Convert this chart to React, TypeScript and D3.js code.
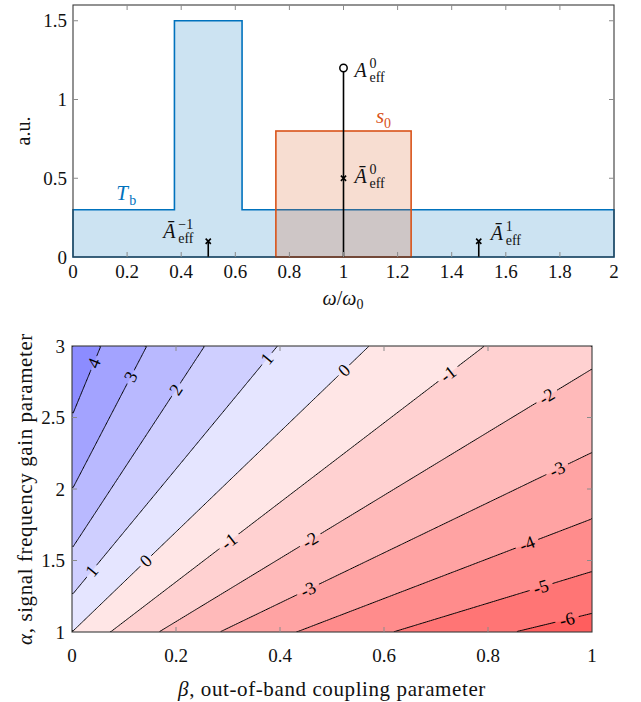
import React, { useMemo } from "react";
import * as d3 from "d3";

const W = 641;
const H = 702;
const FONT = "Liberation Serif";
const TS = { fontFamily: `"${FONT}"` };

// ---------- top panel data ----------
const tbOmega = [0, 0.375, 0.625, 2];
const tbValue = [0.3, 1.5, 0.3, 0.3];
const s0Omega = [0.75, 1.25];
const s0Value = 0.8;
const stemOmega = [0.5, 1, 1.5];
const stemHeight = [0.1, 1.2, 0.1];
const crossOmega = [0.5, 1, 1.5];
const crossValue = [0.1, 0.5, 0.1];
const circleOmega = [1];
const circleValue = [1.2];
const topXTicks = [0, 0.2, 0.4, 0.6, 0.8, 1, 1.2, 1.4, 1.6, 1.8, 2];
const topXTickLabels = ["0", "0.2", "0.4", "0.6", "0.8", "1", "1.2", "1.4", "1.6", "1.8", "2"];
const topYTicks = [0, 0.5, 1, 1.5];
const topYTickLabels = ["0", "0.5", "1", "1.5"];

// ---------- bottom panel data ----------
const betaTicks = [0, 0.2, 0.4, 0.6, 0.8, 1];
const betaTickLabels = ["0", "0.2", "0.4", "0.6", "0.8", "1"];
const alphaTicks = [1, 1.5, 2, 2.5, 3];
const alphaTickLabels = ["1", "1.5", "2", "2.5", "3"];
const gainLevels = [-6, -5, -4, -3, -2, -1, 0, 1, 2, 3, 4];
const bandColors = [
  "rgb(255,94,94)",
  "rgb(255,117,117)",
  "rgb(255,140,140)",
  "rgb(255,163,163)",
  "rgb(255,186,186)",
  "rgb(255,209,209)",
  "rgb(255,230,230)",
  "rgb(229,229,255)",
  "rgb(207,207,255)",
  "rgb(185,185,255)",
  "rgb(163,163,255)",
  "rgb(140,140,255)",
];
const couplingSlope = 3.5; // gain (dB) = 10 log10( alpha / (1 + 3.5 beta) )
const labelLevel = [4, 3, 2, 1, 1, 0, 0, -1, -1, -2, -2, -3, -3, -4, -5, -6];
const labelBeta = [0.042, 0.113, 0.2, 0.375, 0.038, 0.523, 0.142, 0.723, 0.302, 0.913, 0.458, 0.933, 0.454, 0.875, 0.902, 0.952];

function gainDb(beta: number, alpha: number) {
  return 10 * Math.log10(alpha / (1 + couplingSlope * beta));
}

const FRAME = "#3a3a3a";
const TICK = "#8a8a8a";
const BLUE = "#0072bd";
const ORANGE = "#d95319";

function MathLabel({ x, y, base, sup, sub, color = "#111", size = 20, subSize = 14, adv = 15 }: any) {
  return (
    <g fill={color}>
      <text x={x} y={y} fontSize={size} fontStyle="italic" fontFamily={FONT} style={TS}>{base}</text>
      {sup !== undefined && (
        <text x={x + adv} y={y - 9} fontSize={subSize} fontFamily={FONT} style={TS}>{sup}</text>
      )}
      {sub !== undefined && (
        <text x={x + adv} y={y + 5} fontSize={subSize} fontFamily={FONT} style={TS}>{sub}</text>
      )}
    </g>
  );
}

export default function App() {
  // ---------- top scales ----------
  const tx = d3.scaleLinear().domain([0, 2]).range([73, 614]);
  const ty = d3.scaleLinear().domain([0, 1.6]).range([257, 5]);

  const tbPts = tbOmega.map((o, i) => [o, tbValue[i]] as [number, number]);
  const tbArea = d3
    .area<[number, number]>()
    .x((d) => tx(d[0]))
    .y0(ty(0))
    .y1((d) => ty(d[1]))
    .curve(d3.curveStepAfter)(tbPts) as string;

  // ---------- bottom scales ----------
  const bx = d3.scaleLinear().domain([0, 1]).range([72, 592]);
  const ay = d3.scaleLinear().domain([1, 3]).range([632, 346]);

  const { fills, lines } = useMemo(() => {
    const n = 240;
    const values = new Float64Array(n * n);
    for (let j = 0; j < n; j++) {
      const alpha = 3 - ((j + 0.5) / n) * 2;
      for (let i = 0; i < n; i++) {
        const beta = (i + 0.5) / n;
        values[j * n + i] = gainDb(beta, alpha);
      }
    }
    const gx = (x: number) => bx(x / n);
    const gy = (y: number) => ay(3 - (y / n) * 2);
    const cs = d3.contours().size([n, n]).thresholds(gainLevels)(values as any);
    const path = d3.geoPath(
      d3.geoTransform({
        point(x: number, y: number) {
          (this as any).stream.point(gx(x), gy(y));
        },
      })
    );
    const fills = cs.map((c) => path(c as any) || "");
    const onEdge = (a: number[], b: number[]) =>
      (a[0] === 0 && b[0] === 0) ||
      (a[0] === n && b[0] === n) ||
      (a[1] === 0 && b[1] === 0) ||
      (a[1] === n && b[1] === n);
    const lines = cs.map((c) => {
      let d = "";
      for (const poly of c.coordinates) {
        for (const ring of poly) {
          let pen = false;
          for (let k = 1; k < ring.length; k++) {
            const p = ring[k - 1];
            const q = ring[k];
            if (onEdge(p, q)) {
              pen = false;
              continue;
            }
            if (!pen) {
              d += `M${gx(p[0]).toFixed(2)},${gy(p[1]).toFixed(2)}`;
              pen = true;
            }
            d += `L${gx(q[0]).toFixed(2)},${gy(q[1]).toFixed(2)}`;
          }
        }
      }
      return d;
    });
    return { fills, lines };
  }, []);

  const labels = labelLevel.map((L, i) => {
    const b = labelBeta[i];
    const c = Math.pow(10, L / 10);
    const a = c * (1 + couplingSlope * b);
    const px = bx(b);
    const py = ay(a);
    const dx = bx(b + 0.01) - bx(b);
    const dy = ay(a + c * couplingSlope * 0.01) - ay(a);
    const ang = (Math.atan2(dy, dx) * 180) / Math.PI;
    const text = String(L);
    return { px, py, ang, text, w: text.length * 9 + 6 };
  });

  const cross = (cx: number, cy: number, key: any) => (
    <path
      key={key}
      d={`M${cx - 2.6},${cy - 2.6}L${cx + 2.6},${cy + 2.6}M${cx - 2.6},${cy + 2.6}L${cx + 2.6},${cy - 2.6}`}
      stroke="#000"
      strokeWidth={1.6}
    />
  );

  return (
    <svg width={W} height={H} style={{ position: "absolute", left: 0, top: 0 }}>
      <rect width={W} height={H} fill="#fff" />
      {/* ================= TOP PANEL ================= */}
      <path d={tbArea} fill={BLUE} fillOpacity={0.2} stroke={BLUE} strokeWidth={1.6} />
      <rect
        x={tx(s0Omega[0])}
        y={ty(s0Value)}
        width={tx(s0Omega[1]) - tx(s0Omega[0])}
        height={ty(0) - ty(s0Value)}
        fill={ORANGE}
        fillOpacity={0.2}
        stroke={ORANGE}
        strokeWidth={1.6}
      />
      {stemOmega.map((o, i) => (
        <line key={"st" + i} x1={tx(o)} x2={tx(o)} y1={ty(0)} y2={ty(stemHeight[i])} stroke="#000" strokeWidth={1.6} />
      ))}
      {crossOmega.map((o, i) => cross(tx(o), ty(crossValue[i]), "cr" + i))}
      {circleOmega.map((o, i) => (
        <circle key={"ci" + i} cx={tx(o)} cy={ty(circleValue[i])} r={3.7} fill="#fff" stroke="#000" strokeWidth={1.5} />
      ))}
      {/* frame */}
      <rect x={tx(0)} y={ty(1.6)} width={tx(2) - tx(0)} height={ty(0) - ty(1.6)} fill="none" stroke={FRAME} strokeWidth={1.1} />
      {topXTicks.map((t, i) => (
        <g key={"tx" + i}>
          {t > 0 && t < 2 && (
            <>
              <line x1={tx(t)} x2={tx(t)} y1={ty(0)} y2={ty(0) - 5} stroke={TICK} strokeWidth={1} />
              <line x1={tx(t)} x2={tx(t)} y1={ty(1.6)} y2={ty(1.6) + 5} stroke={TICK} strokeWidth={1} />
            </>
          )}
          <text x={tx(t)} y={278} fontSize={19} textAnchor="middle" fill="#111" fontFamily={FONT} style={TS}>{topXTickLabels[i]}</text>
        </g>
      ))}
      {topYTicks.map((t, i) => (
        <g key={"ty" + i}>
          {t > 0 && (
            <>
              <line x1={tx(0)} x2={tx(0) + 5} y1={ty(t)} y2={ty(t)} stroke={TICK} strokeWidth={1} />
              <line x1={tx(2)} x2={tx(2) - 5} y1={ty(t)} y2={ty(t)} stroke={TICK} strokeWidth={1} />
            </>
          )}
          <text x={67} y={ty(t) + 6.5} fontSize={19} textAnchor="end" fill="#111" fontFamily={FONT} style={TS}>{topYTickLabels[i]}</text>
        </g>
      ))}
      <text transform={`translate(30,131) rotate(-90)`} fontSize={20} textAnchor="middle" fill="#111" fontFamily={FONT} style={TS}>a.u.</text>
      <text x={343} y={305} fontSize={20} textAnchor="middle" fill="#111" fontFamily={FONT} style={TS}>
        <tspan fontStyle="italic">ω</tspan>/<tspan fontStyle="italic">ω</tspan>
        <tspan fontSize={14} dy={4}>0</tspan>
      </text>
      {/* curve labels */}
      <MathLabel x={tx(0.16)} y={ty(0.3) - 10} base="T" sub="b" color={BLUE} adv={13} size={21} />
      <MathLabel x={tx(1.12)} y={ty(s0Value) - 8} base="s" sub="0" color={ORANGE} adv={8} size={21} />
      <MathLabel x={tx(circleOmega[0]) + 11} y={ty(circleValue[0]) + 9} base="A" sup="0" sub="eff" />
      <MathLabel x={tx(crossOmega[1]) + 11} y={ty(crossValue[1]) + 5} base="Ā" sup="0" sub="eff" />
      <MathLabel x={tx(crossOmega[0]) - 45} y={ty(crossValue[0]) - 3} base="Ā" sup="−1" sub="eff" />
      <MathLabel x={tx(crossOmega[2]) + 12} y={ty(crossValue[2]) - 1} base="Ā" sup="1" sub="eff" />

      {/* ================= BOTTOM PANEL ================= */}
      <defs>
        <clipPath id="bclip">
          <rect x={bx(0)} y={ay(3)} width={bx(1) - bx(0)} height={ay(1) - ay(3)} />
        </clipPath>
        <mask id="lblmask" maskUnits="userSpaceOnUse" x={0} y={0} width={W} height={H}>
          <rect x={0} y={0} width={W} height={H} fill="#fff" />
          {labels.map((l, i) => (
            <rect
              key={"m" + i}
              transform={`translate(${l.px},${l.py}) rotate(${l.ang})`}
              x={-l.w / 2}
              y={-8}
              width={l.w}
              height={16}
              fill="#000"
            />
          ))}
        </mask>
      </defs>
      <g clipPath="url(#bclip)">
        <rect x={bx(0)} y={ay(3)} width={bx(1) - bx(0)} height={ay(1) - ay(3)} fill={bandColors[0]} />
        {fills.map((d, i) => (
          <path key={"f" + i} d={d} fill={bandColors[i + 1]} stroke={bandColors[i + 1]} strokeWidth={0.5} />
        ))}
        <g mask="url(#lblmask)">
          {lines.map((d, i) => (
            <path key={"l" + i} d={d} fill="none" stroke="#000" strokeWidth={1} />
          ))}
        </g>
      </g>
      {labels.map((l, i) => (
        <text
          key={"lt" + i}
          transform={`translate(${l.px},${l.py}) rotate(${l.ang})`}
          fontSize={18}
          textAnchor="middle"
          dominantBaseline="central"
          fill="#000"
          fontFamily={FONT}
          style={TS}
        >
          {l.text}
        </text>
      ))}
      <rect x={bx(0)} y={ay(3)} width={bx(1) - bx(0)} height={ay(1) - ay(3)} fill="none" stroke={FRAME} strokeWidth={1.1} />
      {betaTicks.map((t, i) => (
        <g key={"bx" + i}>
          {t > 0 && t < 1 && (
            <>
              <line x1={bx(t)} x2={bx(t)} y1={ay(1)} y2={ay(1) - 5} stroke={TICK} strokeWidth={1} />
              <line x1={bx(t)} x2={bx(t)} y1={ay(3)} y2={ay(3) + 5} stroke={TICK} strokeWidth={1} />
            </>
          )}
          <text x={bx(t)} y={662} fontSize={19} textAnchor="middle" fill="#111" fontFamily={FONT} style={TS}>{betaTickLabels[i]}</text>
        </g>
      ))}
      {alphaTicks.map((t, i) => (
        <g key={"ay" + i}>
          {t > 1 && t < 3 && (
            <>
              <line x1={bx(0)} x2={bx(0) + 5} y1={ay(t)} y2={ay(t)} stroke={TICK} strokeWidth={1} />
              <line x1={bx(1)} x2={bx(1) - 5} y1={ay(t)} y2={ay(t)} stroke={TICK} strokeWidth={1} />
            </>
          )}
          <text x={65} y={ay(t) + 6.5} fontSize={19} textAnchor="end" fill="#111" fontFamily={FONT} style={TS}>{alphaTickLabels[i]}</text>
        </g>
      ))}
      <text x={332} y={696} fontSize={21} textAnchor="middle" fill="#111" letterSpacing={0.6} fontFamily={FONT} style={TS}>
        <tspan fontStyle="italic">β</tspan>, out-of-band coupling parameter
      </text>
      <text transform={`translate(32,489) rotate(-90)`} fontSize={21} textAnchor="middle" fill="#111" letterSpacing={0.6} fontFamily={FONT} style={TS}>
        <tspan fontStyle="italic">α</tspan>, signal frequency gain parameter
      </text>
    </svg>
  );
}
